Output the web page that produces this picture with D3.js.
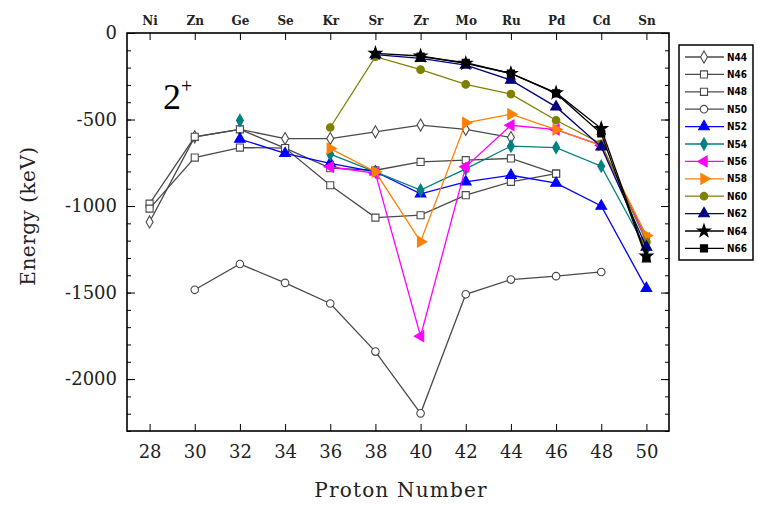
<!DOCTYPE html>
<html lang="en">
<head>
  <meta charset="UTF-8">
  <title>2+ energies</title>
  <style>
    body { margin: 0; background: #fff; }
  </style>
</head>
<body>
  <svg id="svg" width="758" height="505"></svg>
  <script src="https://cdn.jsdelivr.net/npm/d3@7"></script>
  <script>
    // proton numbers and element names on the top axis
    const protons = [28, 30, 32, 34, 36, 38, 40, 42, 44, 46, 48, 50]
    const elements = ['Ni', 'Zn', 'Ge', 'Se', 'Kr', 'Sr', 'Zr', 'Mo', 'Ru', 'Pd', 'Cd', 'Sn']
    const yTicks = [0, -500, -1000, -1500, -2000]

    // one array per isotone, values in keV (null = no point)
    const n44 = [-1092, -600, -557, -610, -610, -571, -532, -557, -604, null, null, null]
    const n46 = [-986, -600, -557, -665, -781, -793, -745, -735, -725, -813, null, null]
    const n48 = [-1015, -720, -662, -665, -880, -1067, -1053, -937, -860, -813, null, null]
    const n50 = [null, -1484, -1335, -1444, -1563, -1841, -2198, -1510, -1425, -1405, -1381, null]
    const n52 = [null, null, -613, -696, -753, -802, -930, -860, -822, -868, -1000, -1476]
    const n54 = [null, null, -505, null, -700, -802, -908, -785, -654, -662, -770, -1250]
    const n56 = [null, null, null, null, -773, -811, -1752, -773, -533, -558, -649, -1187]
    const n58 = [null, null, null, null, -668, -802, -1206, -519, -469, -558, -650, -1170]
    const n60 = [null, null, null, null, -546, -137, -212, -297, -353, -504, -640, -1208]
    const n62 = [null, null, null, null, null, -125, -147, -185, -272, -427, -658, -1237]
    const n64 = [null, null, null, null, null, -118, -133, -176, -234, -346, -552, -1290]
    const n66 = [null, null, null, null, null, null, -137, -172, -234, -349, -581, -1302]

    const series = [
      { name: 'N44', values: n44, color: '#4a4a4a', shape: 'diamond', fill: false },
      { name: 'N46', values: n46, color: '#4a4a4a', shape: 'square', fill: false },
      { name: 'N48', values: n48, color: '#4a4a4a', shape: 'square', fill: false },
      { name: 'N50', values: n50, color: '#4a4a4a', shape: 'circle', fill: false },
      { name: 'N52', values: n52, color: '#0000ff', shape: 'triangle', fill: true },
      { name: 'N54', values: n54, color: '#008080', shape: 'diamond', fill: true },
      { name: 'N56', values: n56, color: '#ff00ff', shape: 'left', fill: true },
      { name: 'N58', values: n58, color: '#ff8000', shape: 'right', fill: true },
      { name: 'N60', values: n60, color: '#808000', shape: 'circle', fill: true },
      { name: 'N62', values: n62, color: '#000080', shape: 'triangle', fill: true },
      { name: 'N64', values: n64, color: '#000000', shape: 'star', fill: true },
      { name: 'N66', values: n66, color: '#000000', shape: 'square', fill: true }
    ]

    const serif = '"DejaVu Serif", "Liberation Serif", serif'
    const svg = d3.select('#svg')
    const plotLeft = 127, plotRight = 669, plotTop = 33, plotBottom = 431

    const x = d3.scaleLinear().domain([27, 51]).range([plotLeft, plotRight])
    const y = d3.scaleLinear().domain([-2300, 0]).range([plotBottom, plotTop])

    function symbolFor(shape) {
      if (shape === 'diamond') return d3.symbolDiamond
      if (shape === 'square') return d3.symbolSquare
      if (shape === 'circle') return d3.symbolCircle
      if (shape === 'star') return d3.symbolStar
      return d3.symbolTriangle
    }
    function rotFor(shape) {
      if (shape === 'left') return -90
      if (shape === 'right') return 90
      return 0
    }
    function sizeFor(shape) {
      if (shape === 'star') return 50
      if (shape === 'diamond') return 42
      if (shape === 'circle') return 45
      return 50
    }

    // lines
    const line = d3.line()
      .defined(d => d[1] !== null)
      .x(d => x(d[0]))
      .y(d => y(d[1]))

    const plot = svg.append('g')
    series.forEach(s => {
      const pts = protons.map((p, i) => [p, s.values[i]])
      plot.append('path')
        .attr('d', line(pts))
        .attr('fill', 'none')
        .attr('stroke', s.color)
        .attr('stroke-width', 1.3)
      plot.selectAll(null)
        .data(pts.filter(d => d[1] !== null))
        .enter()
        .append('path')
        .attr('d', d3.symbol().type(symbolFor(s.shape)).size(sizeFor(s.shape)))
        .attr('transform', d => `translate(${x(d[0])},${y(d[1])}) rotate(${rotFor(s.shape)})`)
        .attr('fill', s.fill ? s.color : '#fff')
        .attr('stroke', s.color)
        .attr('stroke-width', 1.1)
    })

    // frame
    svg.append('rect')
      .attr('x', plotLeft).attr('y', plotTop)
      .attr('width', plotRight - plotLeft).attr('height', plotBottom - plotTop)
      .attr('fill', 'none').attr('stroke', '#000').attr('stroke-width', 1.6)

    // axes, ticks pointing inward
    const minor = d3.range(0, -2301, -100)
    svg.append('g')
      .attr('transform', `translate(0,${plotBottom})`)
      .call(d3.axisBottom(x).tickValues(protons).tickSize(-7).tickPadding(14))
      .attr('font-family', serif)
      .call(g => g.select('.domain').remove())
      .call(g => g.selectAll('text').attr('font-size', 18).attr('fill', '#222'))
    svg.append('g')
      .attr('transform', `translate(0,${plotTop})`)
      .call(d3.axisTop(x).tickValues(protons).tickSize(-7).tickFormat((d, i) => elements[i]).tickPadding(8))
      .attr('font-family', serif)
      .call(g => g.select('.domain').remove())
      .call(g => g.selectAll('text').attr('font-size', 12).attr('font-weight', 'bold').attr('fill', '#222'))
    svg.append('g')
      .attr('transform', `translate(${plotLeft},0)`)
      .call(d3.axisLeft(y).tickValues(minor).tickSize(-4).tickFormat(''))
      .call(g => g.select('.domain').remove())
    svg.append('g')
      .attr('transform', `translate(${plotLeft},0)`)
      .call(d3.axisLeft(y).tickValues(yTicks).tickSize(-8).tickPadding(10).tickFormat(d => String(d)))
      .attr('font-family', serif)
      .call(g => g.select('.domain').remove())
      .call(g => g.selectAll('text').attr('font-size', 18).attr('fill', '#222'))
    svg.append('g')
      .attr('transform', `translate(${plotRight},0)`)
      .call(d3.axisRight(y).tickValues(minor).tickSize(-4).tickFormat(''))
      .call(g => g.select('.domain').remove())
    svg.append('g')
      .attr('transform', `translate(${plotRight},0)`)
      .call(d3.axisRight(y).tickValues(yTicks).tickSize(-8).tickFormat(''))
      .call(g => g.select('.domain').remove())

    // axis titles
    svg.append('text')
      .attr('x', 401).attr('y', 497)
      .attr('text-anchor', 'middle')
      .attr('font-family', serif)
      .attr('font-size', 20).attr('letter-spacing', 1.2).attr('fill', '#222')
      .text('Proton Number')
    svg.append('text')
      .attr('transform', 'translate(35,216) rotate(-90)')
      .attr('text-anchor', 'middle')
      .attr('font-family', serif)
      .attr('font-size', 20).attr('letter-spacing', 0.5).attr('fill', '#222')
      .text('Energy (keV)')

    // 2+ label
    const lab = svg.append('text')
      .attr('x', 163).attr('y', 109)
      .attr('font-family', '"Liberation Serif", serif')
      .attr('font-size', 36).attr('fill', '#000')
    lab.append('tspan').text('2')
    lab.append('tspan').attr('dy', -16).attr('font-size', 20).text('+')

    // legend
    const lg = svg.append('g')
    lg.append('rect')
      .attr('x', 679).attr('y', 45).attr('width', 74).attr('height', 215)
      .attr('fill', '#fff').attr('stroke', '#000').attr('stroke-width', 1.5)
    series.forEach((s, i) => {
      const ly = 57 + i * 17.4
      lg.append('line')
        .attr('x1', 685).attr('x2', 724).attr('y1', ly).attr('y2', ly)
        .attr('stroke', s.color).attr('stroke-width', 1.3)
      lg.append('path')
        .attr('d', d3.symbol().type(symbolFor(s.shape)).size(sizeFor(s.shape)))
        .attr('transform', `translate(704,${ly}) rotate(${rotFor(s.shape)})`)
        .attr('fill', s.fill ? s.color : '#fff')
        .attr('stroke', s.color)
        .attr('stroke-width', 1.1)
      lg.append('text')
        .attr('x', 727).attr('y', ly + 3.5)
        .attr('font-size', 10).attr('font-weight', 'bold')
        .attr('font-family', '"DejaVu Sans Condensed", "DejaVu Sans", sans-serif')
        .text(s.name)
    })
  </script>
</body>
</html>
